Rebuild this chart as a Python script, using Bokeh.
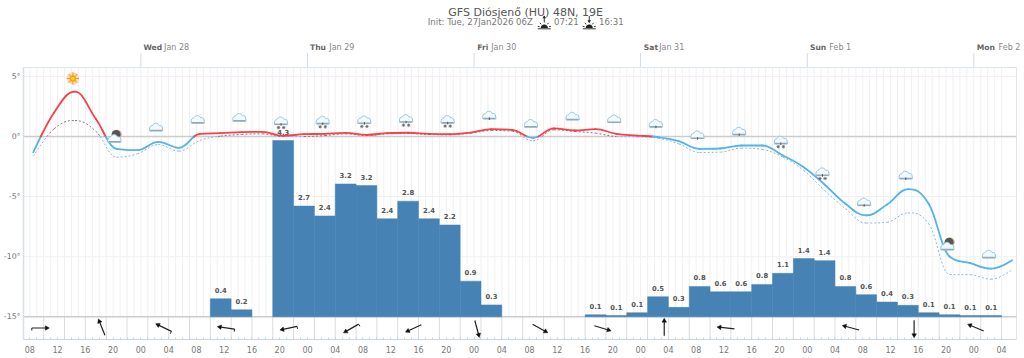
import math
from bokeh.plotting import figure
from bokeh.embed import file_html
from bokeh.resources import INLINE
from bokeh.core.properties import value
from bokeh.models import Range1d, LinearAxis, FixedTicker, Label

# ---------- data (hours are counted from Jan 27 00:00) ----------
temp_start_hour = 8.5
temperature = [-1.31, 2.0, 3.74, 1.47, -1.03, -1.14, -0.44, -0.94, 0.22, 0.28, 0.36, 0.39,
               0.06, 0.19, 0.22, 0.30, 0.14, 0.28, 0.31, 0.22, 0.19, 0.33, 0.61, 0.55,
               -0.11, 0.67, 0.50, 0.61, 0.22, 0.08, -0.05, -0.39, -1.03, -1.0, -0.75, -0.75,
               -1.58, -2.55, -3.99, -5.6, -6.57, -5.66, -4.38, -5.6, -9.98, -10.54, -11.0, -10.3]
feels_like = [-1.64, 0.64, 1.33, 0.44, -1.72, -1.44, -0.67, -1.22, -0.33, 0.03, 0.17, 0.22,
              0.0, 0.0, 0.08, 0.22, 0.08, 0.22, 0.25, 0.17, 0.14, 0.28, 0.5, 0.44,
              -0.36, 0.56, 0.42, 0.28, 0.0, -0.03, -0.14, -0.61, -1.33, -1.3, -0.97, -1.08,
              -1.72, -2.83, -4.49, -6.0, -7.2, -7.13, -6.35, -7.26, -11.48, -11.5, -11.87, -11.09]

precip_start = [34, 37, 43, 46, 49, 52, 55, 58, 61, 64, 67, 70, 73,
                88, 91, 94, 97, 100, 103, 106, 109, 112, 115, 118, 121, 124, 127, 130, 133, 136, 139, 142, 145]
precip = [0.44, 0.17, 4.3, 2.7, 2.46, 3.24, 3.2, 2.39, 2.82, 2.39, 2.24, 0.87, 0.29,
          0.05, 0.03, 0.1, 0.49, 0.23, 0.74, 0.61, 0.61, 0.79, 1.06, 1.42, 1.37, 0.74, 0.54, 0.36, 0.28, 0.1, 0.05, 0.03, 0.03]
precip_labels = ["0.4", "0.2", "4.3", "2.7", "2.4", "3.2", "3.2", "2.4", "2.8", "2.4", "2.2", "0.9", "0.3",
                 "0.1", "0.1", "0.1", "0.5", "0.3", "0.8", "0.6", "0.6", "0.8", "1.1", "1.4", "1.4", "0.8", "0.6", "0.4", "0.3", "0.1", "0.1", "0.1", "0.1"]

wind_hour = [9.4, 18.4, 27.4, 36.4, 45.4, 54.4, 63.4, 72.4, 81.4, 90.4, 99.4, 108.4, 126.4, 135.4, 144.4]
wind_angle = [0, 112, 154, 172, 192, 210, 205, -75, -29, -17, 90, 174, 165, -90, 157]
wind_barb = [1, 0, 1, 1, 1, 1, 0, 0, 0, 0, 0, 0, 0, 0, 0]

icon_hour = [14.2, 20.2, 26.2, 32.2, 38.2, 44.2, 50.2, 56.2, 62.2, 68.2, 74.2, 80.2, 86.2, 92.2, 98.2,
             104.2, 110.2, 116.2, 122.2, 128.2, 134.2, 140.2, 146.2]
icon_temp = [4.83, -0.19, 0.75, 1.39, 1.56, 1.27, 1.33, 1.36, 1.47, 1.39, 1.75, 1.06, 1.66, 1.44, 1.06,
             0.11, 0.42, -0.33, -2.97, -5.47, -3.24, -9.15, -9.82]
icon_kind = ["sun", "moon", "cloud", "cloud", "cloud", "snow", "snow", "snow", "snow", "snow", "light", "cloud",
             "cloud", "cloud", "light", "light", "light", "snow", "snow", "light", "light", "moon", "cloud"]

day_hours = [24, 48, 72, 96, 120, 144]
day_names = ["Wed", "Thu", "Fri", "Sat", "Sun", "Mon"]
day_dates = ["Jan 28", "Jan 29", "Jan 30", "Jan 31", "Feb 1", "Feb 2"]

hour_ticks = list(range(8, 149, 4))
hour_labels = ["08", "12", "16", "20", "00", "04"]
temp_ticks = [5, 0, -5, -10, -15]
temp_tick_labels = ["5°", "0°", "-5°", "-10°", "-15°"]

title_text = "GFS Diósjenő (HU) 48N, 19E"
init_text = "Init: Tue, 27Jan2026 06Z"
sunrise_text = "07:21"
sunset_text = "16:31"

# ---------- scales ----------
PX_H = 6.948
PX_D = 12.02
X0 = 139.5 - 24 * PX_H   # pixel of hour 0 (Jan 27 00:00)
Y0 = 136.0
def hx(px): return (px - X0) / PX_H
def dy(py): return (Y0 - py) / PX_D

# the frame takes the whole canvas above the bottom axis, so title and day labels can lie in it
x_lo, x_hi = hx(22), hx(1024)
y_lo, y_hi = dy(339), dy(0)
y_top = dy(67)
x_left, x_right = hx(22), hx(1016)
PX_MM = 41.0
p_lo = (y_lo + 15) * PX_D / PX_MM
p_hi = (y_hi + 15) * PX_D / PX_MM

FONT = "DejaVu Sans"
p = figure(width=1024, height=358, output_backend="svg", toolbar_location=None,
           x_range=Range1d(x_lo, x_hi), y_range=Range1d(y_lo, y_hi),
           x_axis_type=None, y_axis_type=None, tools="",
           min_border_left=22, min_border_right=0, min_border_top=0, min_border_bottom=19)
p.background_fill_color = "white"
p.border_fill_color = "white"
p.outline_line_color = None
p.xgrid.visible = False
p.ygrid.visible = False
p.extra_y_ranges = {"precip": Range1d(p_lo, p_hi)}

# axes
left = LinearAxis(ticker=FixedTicker(ticks=temp_ticks), bounds=(y_lo, y_top),
                  major_label_overrides=dict(zip(temp_ticks, temp_tick_labels)),
                  major_tick_line_color=None, minor_tick_line_color=None,
                  major_tick_out=0, major_tick_in=0, minor_tick_out=0, minor_tick_in=0,
                  axis_line_color="#d8dde6", axis_line_width=1.5,
                  major_label_text_font=FONT, major_label_text_font_size="7.8px",
                  major_label_text_color="#777777", major_label_standoff=3)
p.add_layout(left, "left")

all_hours = list(range(8, 149))
bottom = LinearAxis(ticker=FixedTicker(ticks=hour_ticks, minor_ticks=all_hours), bounds=(x_left, x_right),
                    major_label_overrides={h: hour_labels[((h - 8) // 4) % 6] for h in hour_ticks},
                    major_tick_out=0, major_tick_in=0, minor_tick_out=0, minor_tick_in=2,
                    minor_tick_line_color="#c8d4e4", axis_line_color="#c8d4e8",
                    major_label_text_font=FONT, major_label_text_font_size="8px",
                    major_label_text_color="#777777", major_label_standoff=6)
p.add_layout(bottom, "below")

# frame, day ticks, grid lines
p.segment([x_left], [y_top], [x_right], [y_top], line_color="#dbe4f2", line_width=1.2)
p.segment([x_right], [y_lo], [x_right], [y_top], line_color="#e4e4e4", line_width=1)
p.segment(day_hours, dy(52.5), day_hours, y_top, line_color="#d0daea", line_width=1)
p.segment(all_hours, -15, all_hours, y_top, line_color="#f0f0f0", line_width=1)
three = list(range(7, 149, 3))
p.segment(three, y_lo, three, -15, line_color="#dcdcdc", line_width=1)
faint = [t for t in temp_ticks if t not in (0, -15)]
p.segment([x_left] * 3, faint, [x_right] * 3, faint, line_color="#f0f0f0", line_width=1)
p.segment([x_left] * 2, [0, -15], [x_right] * 2, [0, -15], line_color="#cccccc", line_width=1.4)

# precipitation bars
p.quad(left=precip_start, right=[s + 3 for s in precip_start], bottom=0, top=precip, y_range_name="precip",
       fill_color="#4682b4", line_color="#4682b4", line_width=0.5)
p.text(x=[s + 1.5 for s in precip_start], y=precip, text=precip_labels, y_range_name="precip",
       y_offset=-8.5, text_align="center", text_baseline="middle", text_font=value(FONT),
       text_font_size="6.8px", text_font_style="bold", text_color="#555555")

# spline through the read values, coloured by sign
def controls(xs, ys):
    n = len(xs)
    out = []
    for i in range(1, n - 1):
        lx = (1.5 * xs[i] + xs[i - 1]) / 2.5
        ly = (1.5 * ys[i] + ys[i - 1]) / 2.5
        rx = (1.5 * xs[i] + xs[i + 1]) / 2.5
        ry = (1.5 * ys[i] + ys[i + 1]) / 2.5
        c = (ry - ly) * (rx - xs[i]) / (rx - lx) + ys[i] - ry
        ly += c
        ry += c
        if ly > ys[i - 1] and ly > ys[i]:
            ly = max(ys[i - 1], ys[i]); ry = 2 * ys[i] - ly
        elif ly < ys[i - 1] and ly < ys[i]:
            ly = min(ys[i - 1], ys[i]); ry = 2 * ys[i] - ly
        if ry > ys[i + 1] and ry > ys[i]:
            ry = max(ys[i + 1], ys[i]); ly = 2 * ys[i] - ry
        elif ry < ys[i + 1] and ry < ys[i]:
            ry = min(ys[i + 1], ys[i]); ly = 2 * ys[i] - ry
        out.append((lx, ly, rx, ry))
    return out

def pt(b, t):
    u = 1 - t
    return u**3 * b[0] + 3*u*u*t * b[1] + 3*u*t*t * b[2] + t**3 * b[3]

def split(bx, by, t):
    def one(b):
        a = b[0] + (b[1]-b[0])*t; c = b[1] + (b[2]-b[1])*t; d = b[2] + (b[3]-b[2])*t
        e = a + (c-a)*t; f = c + (d-c)*t; g = e + (f-e)*t
        return [b[0], a, e, g], [g, f, d, b[3]]
    lx, rx = one(bx); ly, ry = one(by)
    return (lx, ly), (rx, ry)

def pieces(bx, by):
    for k in range(1, 40):
        t0, t1 = (k-1)/40, k/40
        if pt(by, t0) * pt(by, t1) < 0 and abs(pt(by, t0)) > 1e-9:
            a, b = t0, t1
            for _ in range(30):
                m = (a+b)/2
                if pt(by, a) * pt(by, m) <= 0: b = m
                else: a = m
            (lx, ly), (rx, ry) = split(bx, by, (a+b)/2)
            ly[3] = 0.0; ry[0] = 0.0
            return [(lx, ly)] + pieces(rx, ry)
    return [(bx, by)]

def draw_spline(values, hot, cold, **kw):
    xs = [temp_start_hour + 3 * i for i in range(len(values))]
    ctl = controls(xs, values)
    cols = {"x0": [], "y0": [], "x1": [], "y1": [], "cx0": [], "cy0": [], "cx1": [], "cy1": [], "c": []}
    for i in range(len(xs) - 1):
        cx0, cy0 = (xs[i], values[i]) if i == 0 else (ctl[i-1][2], ctl[i-1][3])
        cx1, cy1 = (xs[i+1], values[i+1]) if i == len(xs) - 2 else (ctl[i][0], ctl[i][1])
        for bx, by in pieces([xs[i], cx0, cx1, xs[i+1]], [values[i], cy0, cy1, values[i+1]]):
            cols["x0"].append(bx[0]); cols["y0"].append(by[0]); cols["x1"].append(bx[3]); cols["y1"].append(by[3])
            cols["cx0"].append(bx[1]); cols["cy0"].append(by[1]); cols["cx1"].append(bx[2]); cols["cy1"].append(by[2])
            cols["c"].append(hot if pt(by, 0.5) > 0 else cold)
    p.bezier(x0=cols["x0"], y0=cols["y0"], x1=cols["x1"], y1=cols["y1"], cx0=cols["cx0"], cy0=cols["cy0"],
             cx1=cols["cx1"], cy1=cols["cy1"], line_color=cols["c"], **kw)

draw_spline(feels_like, "#a56a6a", "#8db8e2", line_width=1, line_dash="2 2")
draw_spline(temperature, "#f8404a", "#52b4ea", line_width=1.8, line_cap="round")

# wind arrows
W_LEN = 15.5
tx0, ty0, tx1, ty1, heads_x, heads_y, heads_a = [], [], [], [], [], [], []
bx0, by0, bx1, by1 = [], [], [], []
yc = dy(327.5)
for h, a, b in zip(wind_hour, wind_angle, wind_barb):
    ca, sa = math.cos(math.radians(a)), math.sin(math.radians(a))
    dx, dyy = ca * W_LEN / 2 / PX_H, sa * W_LEN / 2 / PX_D
    tx0.append(h - dx); ty0.append(yc - dyy); tx1.append(h + dx); ty1.append(yc + dyy)
    heads_x.append(h + dx * 0.92); heads_y.append(yc + dyy * 0.92); heads_a.append(math.radians(a - 90))
    if b:
        sgn = -1 if ca >= 0 else 1
        px, py = -sa * sgn, ca * sgn
        bx0.append(h - dx); by0.append(yc - dyy)
        bx1.append(h - dx + px * 2.5 / PX_H); by1.append(yc - dyy + py * 2.5 / PX_D)
p.segment(tx0, ty0, tx1, ty1, line_color="#222222", line_width=1.2)
p.segment(bx0, by0, bx1, by1, line_color="#222222", line_width=1)
p.scatter(heads_x, heads_y, marker="triangle", size=4.5, angle=heads_a, fill_color="#111111", line_color="#111111", line_width=0.5)

# weather icons
lobes = [(-4.0, 0.8, 2.6), (-0.4, -0.6, 3.6), (3.8, 0.8, 2.8)]
def cloud_outline():
    top_pts = []
    xv = [-6.6 + i * 0.6 for i in range(23)]
    for x in xv:
        ys = [cy - math.sqrt(r*r - (x-cx)**2) for cx, cy, r in lobes if abs(x-cx) < r]
        top_pts.append((x, min(ys) if ys else 2.8))
    return [(-6.6, 3.4)] + top_pts + [(6.6, 3.4)]
cl = cloud_outline()
cx_px = [X0 + h * PX_H for h in icon_hour]
cy_px = [Y0 - t * PX_D for t in icon_temp]

moon_i = [i for i, k in enumerate(icon_kind) if k == "moon"]
p.scatter([hx(cx_px[i] + 2.6) for i in moon_i], [dy(cy_px[i] - 4.3) for i in moon_i], size=9.5, fill_color="#c9bd92", line_color=None)
p.scatter([hx(cx_px[i] + 1.6) for i in moon_i], [dy(cy_px[i] - 4.3) for i in moon_i], size=9, fill_color="#555555", line_color=None)

cloud_i = [i for i, k in enumerate(icon_kind) if k != "sun"]
p.patches([[hx(cx_px[i] + a) for a, _ in cl] for i in cloud_i], [[dy(cy_px[i] + b) for _, b in cl] for i in cloud_i],
          fill_color="#f3f9fd", line_color="#8ec6e6", line_width=1)
p.segment([hx(cx_px[i] - 6) for i in cloud_i], [dy(cy_px[i] + 3) for i in cloud_i],
          [hx(cx_px[i] + 6) for i in cloud_i], [dy(cy_px[i] + 3) for i in cloud_i], line_color="#93a9b8", line_width=1.4)
mark_i = [i for i, k in enumerate(icon_kind) if k in ("light", "snow")]
p.segment([hx(cx_px[i]) for i in mark_i], [dy(cy_px[i] + 2) for i in mark_i],
          [hx(cx_px[i]) for i in mark_i], [dy(cy_px[i] + 4.5) for i in mark_i], line_color="#555555", line_width=1)
snow_i = [i for i, k in enumerate(icon_kind) if k == "snow"]
sx = [hx(cx_px[i] + o) for i in snow_i for o in (-2.6, 2.6)]
sy = [dy(cy_px[i] + 6.3) for i in snow_i for o in (-2.6, 2.6)]
p.scatter(sx, sy, marker="asterisk", size=3.4, line_color="#666666", line_width=0.8)

sun_i = [i for i, k in enumerate(icon_kind) if k == "sun"]
sunx = [hx(cx_px[i]) for i in sun_i]; suny = [dy(cy_px[i]) for i in sun_i]
p.scatter(sunx, suny, size=12.5, fill_color="#fbdcb4", line_color=None)
p.scatter(sunx, suny, marker="asterisk", size=12.5, line_color="#f39a3c", line_width=1)
p.scatter(sunx, suny, marker="x", size=9.5, line_color="#f39a3c", line_width=1)
p.scatter(sunx, suny, size=6.5, fill_color="#ff9d1e", line_color=None)
p.scatter(sunx, suny, size=3.5, fill_color="#ffe600", line_color=None)

# texts above the chart
def text_at(px, py, txt, size, color, style="normal", align="left"):
    p.add_layout(Label(x=hx(px), y=dy(py), text=txt, text_font=FONT, text_font_size=size,
                       text_font_style=style, text_color=color, text_baseline="middle", text_align=align))

name_off = [2.5, 2.5, 3.2, 3.2, 2.7, 3.0]
date_off = [23.2, 21.9, 17.2, 18.6, 22.1, 24.8]
for h, n, d, o1, o2 in zip(day_hours, day_names, day_dates, name_off, date_off):
    px = X0 + h * PX_H
    text_at(px + o1, 47.3, n, "7.6px", "#666666", style="bold")
    text_at(px + o2, 47.3, d, "8px", "#888888")

text_at(524.7, 11.5, title_text, "11px", "#555555", align="center")
for px, txt in ((426.7, init_text), (553, sunrise_text), (598, sunset_text)):
    text_at(px, 21.3, txt, "8.6px", "#777777")

# sunrise and sunset marks
def sun_mark(cx, up):
    a0 = list(range(0, 181, 20))
    p.patch([hx(cx + 3.6 * math.cos(math.radians(a))) for a in a0], [dy(27.5 - 3.6 * math.sin(math.radians(a))) for a in a0],
            fill_color="#222222", line_color=None)
    lines_x = [[cx - 6.5, cx + 6.5], [cx, cx]]
    lines_y = [[28.3, 28.3], [15.5, 22]]
    for a in (15, 50, 130, 165):
        ca, sa = math.cos(math.radians(a)), math.sin(math.radians(a))
        lines_x.append([cx + 4.8 * ca, cx + 6.8 * ca])
        lines_y.append([27.5 - 4.8 * sa, 27.5 - 6.8 * sa])
    p.multi_line([[hx(v) for v in xs] for xs in lines_x], [[dy(v) for v in ys] for ys in lines_y],
                 line_color="#222222", line_width=0.9)
    tip = (15, 17.8) if up else (22.5, 19.7)
    p.patch([hx(cx - 1.8), hx(cx), hx(cx + 1.8)], [dy(tip[1]), dy(tip[0]), dy(tip[1])], fill_color="#222222", line_color=None)

sun_mark(543.3, True)
sun_mark(588.3, False)

open("out.html", "w").write(file_html(p, INLINE))
